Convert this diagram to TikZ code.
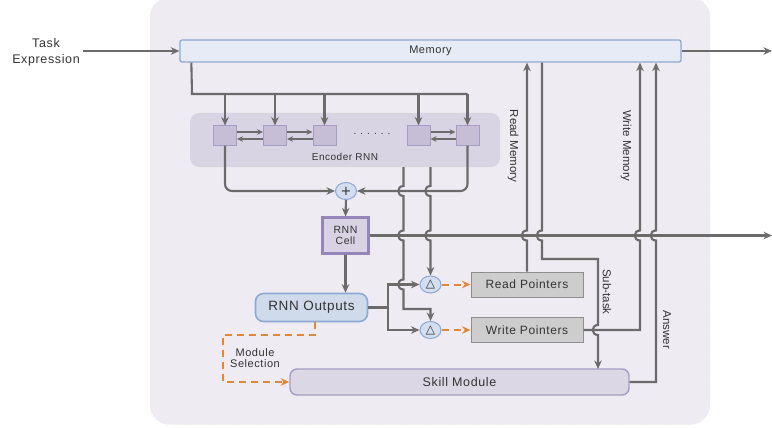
\documentclass[tikz,border=0pt]{standalone}
\usepackage{fontspec}
\setmainfont[LetterSpace=5]{Liberation Sans}
\newfontfamily\labfont{Liberation Sans}
\newfontfamily\symfont{DejaVu Sans}
\usetikzlibrary{arrows.meta,calc,shapes.geometric}
\definecolor{panelfill}{HTML}{EEEBF3}
\definecolor{panelline}{HTML}{C9D2EA}
\definecolor{memfill}{HTML}{E6EBF5}
\definecolor{bluebd}{HTML}{8EA8D4}
\definecolor{encfill}{HTML}{D9D4E3}
\definecolor{sqfill}{HTML}{C6BED7}
\definecolor{purbd}{HTML}{A79CC5}
\definecolor{cellbd}{HTML}{9585BA}
\definecolor{cellfill}{HTML}{D8D2E3}
\definecolor{opfill}{HTML}{D3DEF0}
\definecolor{outfill}{HTML}{CFDBEA}
\definecolor{ptrfill}{HTML}{CDCDCD}
\definecolor{ptrbd}{HTML}{8E8E8E}
\definecolor{skillfill}{HTML}{DCD7E5}
\definecolor{wire}{HTML}{6B6B6B}
\definecolor{orng}{HTML}{E0873A}
\definecolor{txt}{HTML}{333333}
\begin{document}
\begin{tikzpicture}[x=1pt,y=-1pt,
  wire/.style={draw=wire,line width=2.1pt},
  arr/.style={wire,-{Stealth[length=8.5pt,width=7.5pt]}},
  thinarr/.style={draw=wire,line width=1.4pt,-{Stealth[length=6pt,width=5.5pt]}},
  oarr/.style={draw=orng,line width=2pt,dash pattern=on 7pt off 5pt,-{Stealth[length=8.5pt,width=7.5pt]}},
  sq/.style={draw=purbd,fill=sqfill,line width=1pt,minimum width=23pt,minimum height=19pt,inner sep=0pt},
  op/.style={ellipse,draw=bluebd,fill=opfill,line width=1pt,minimum width=21pt,minimum height=17pt,inner sep=0pt},
  ptr/.style={draw=ptrbd,fill=ptrfill,line width=1pt,minimum width=112pt,minimum height=25pt,inner sep=0pt,font=\fontsize{12}{14}\selectfont,text=txt},
  lab/.style={font=\labfont\fontsize{11.5}{13}\selectfont,text=txt,inner sep=0pt},
  every node/.style={text=txt}
]
\useasboundingbox (0,0) rectangle (772,428);
% outer panel
\node[draw=panelline,dotted,fill=panelfill,rounded corners=20pt,minimum width=560pt,minimum height=427pt,inner sep=0pt] (panel) at (430,211) {};
% memory
\node[draw=bluebd,fill=memfill,line width=1.3pt,rounded corners=2pt,minimum width=501pt,minimum height=22pt,inner sep=0pt,font=\fontsize{11}{12}\selectfont] (mem) at (430.5,51) {Memory};
\node[align=center,font=\fontsize{12.5}{16}\selectfont] (task) at (46,52) {Task\\Expression};
\coordinate (memout) at (772,51);
% encoder
\node[fill=encfill,rounded corners=9pt,minimum width=310pt,minimum height=54pt,inner sep=0pt] (enc) at (345,140) {};
\node[sq] (s1) at (225,135.5) {};
\node[sq] (s2) at (275,135.5) {};
\node[sq] (s3) at (324.5,135.5) {};
\node[sq] (s4) at (418.5,135.5) {};
\node[sq] (s5) at (467.5,135.5) {};
\node[font=\fontsize{10}{12}\selectfont] (dots) at (372,134) {.\hspace{4pt}.\hspace{4pt}.\hspace{4pt}.\hspace{4pt}.\hspace{4pt}.};
\node[font=\fontsize{10}{12}\selectfont] (enclab) at (345,157) {Encoder RNN};
% ops
\node[op] (plus) at (346,191) {\symfont\fontsize{13}{13}\selectfont +};
\node[draw=cellbd,fill=cellfill,line width=2.2pt,minimum width=46pt,minimum height=36pt,inner sep=0pt,align=center,font=\fontsize{10.5}{11}\selectfont] (cell) at (345.5,235.5) {RNN\\Cell};
\node[draw=bluebd,fill=outfill,line width=1.6pt,rounded corners=8pt,minimum width=112pt,minimum height=28pt,inner sep=0pt,font=\fontsize{13.5}{15}\selectfont] (out) at (311.5,307.5) {RNN Outputs};
\node[op] (tr) at (430.5,284.5) {\symfont\fontsize{12}{12}\selectfont △};
\node[op] (tw) at (430.5,330) {\symfont\fontsize{12}{12}\selectfont △};
\node[ptr] (rp) at (527,284.5) {Read Pointers};
\node[ptr] (wp) at (527,330) {Write Pointers};
\node[draw=purbd,fill=skillfill,line width=1.4pt,rounded corners=7pt,minimum width=339pt,minimum height=26pt,inner sep=0pt,font=\fontsize{12.5}{14}\selectfont] (skill) at (459.5,382) {Skill Module};
\coordinate (cellout) at (772,235.5);
% labels
\node[lab,rotate=-90] (lrm) at (513,146) {Read Memory};
\node[lab,rotate=-90] (lwm) at (626,146) {Write Memory};
\node[lab,rotate=-90] (lst) at (607,292) {Sub-task};
\node[lab,rotate=-90] (lans) at (667,330) {Answer};
\node[align=center,font=\fontsize{11}{11.5}\selectfont] (lms) at (255,358) {Module\\Selection};

% connectors
\draw[arr] (task.east |- mem.west) -- (mem.west);
\draw[arr] (mem.east) -- (memout);
\coordinate (bus) at (192,94);
\draw[wire] ($(mem.south west)+(12,0)$) -- (bus) -- (bus -| s5.north);
\foreach \s in {s1,s2,s3,s4,s5} \draw[arr] (bus -| \s.north) -- (\s.north);
\foreach \a/\b in {s1/s2,s2/s3,s4/s5} {
  \draw[thinarr] ($(\a.east)+(0,-3.5)$) -- ($(\b.west)+(0,-3.5)$);
  \draw[thinarr] ($(\b.west)+(0,3.5)$) -- ($(\a.east)+(0,3.5)$);
}
\draw[arr,rounded corners=7pt] (s1.south) |- (plus.west);
\draw[arr,rounded corners=7pt] (s5.south) |- (plus.east);
\draw[arr] (plus.south) -- (cell.north);
\draw[arr] (cell.south) -- (cell.south |- out.north);
\draw[arr] (cell.east) -- (cellout);
% verticals from encoder with hops
\coordinate (v1) at (403.5,167);
\coordinate (v2) at (430.5,167);
\coordinate (v1b) at (403.5,309);
\draw[arr] (v1)
  -- (403.5,186) .. controls (396.5,186) and (396.5,196) .. (403.5,196)
  -- (403.5,230.5) .. controls (396.5,230.5) and (396.5,240.5) .. (403.5,240.5)
  -- (403.5,279.5) .. controls (396.5,279.5) and (396.5,289.5) .. (403.5,289.5)
  -- (v1b) -- (v1b -| tw.north) -- (tw.north);
\draw[arr] (v2)
  -- (430.5,186) .. controls (423.5,186) and (423.5,196) .. (430.5,196)
  -- (430.5,230.5) .. controls (423.5,230.5) and (423.5,240.5) .. (430.5,240.5)
  -- (tr.north);
% outputs to ops
\coordinate (fork) at (388,307.5);
\draw[wire] (out.east) -- (fork);
\draw[arr] (fork) |- (tr.west);
\draw[arr] (fork) |- (tw.west);
\draw[oarr] (tr.east) -- (rp.west);
\draw[oarr] (tw.east) -- (wp.west);
% read memory
\draw[arr] (rp.north) -- (527,240.5) .. controls (520,240.5) and (520,230.5) .. (527,230.5) -- (rp.north |- mem.south);
% sub-task
\coordinate (stc) at (542,259);
\draw[arr] (stc |- mem.south) -- (542,230.5) .. controls (535,230.5) and (535,240.5) .. (542,240.5) -- (stc) -- (598,259)
  -- (598,325) .. controls (591,325) and (591,335) .. (598,335) -- (598,369);
% write memory
\coordinate (wmc) at (640,330);
\draw[arr] (wp.east) -- (wmc) -- (640,240.5) .. controls (633,240.5) and (633,230.5) .. (640,230.5) -- (wmc |- mem.south);
% answer
\coordinate (anc) at (656,382);
\draw[arr] (skill.east) -- (anc) -- (656,240.5) .. controls (649,240.5) and (649,230.5) .. (656,230.5) -- (anc |- mem.south);
% module selection
\coordinate (ms1) at (315,335);
\coordinate (ms2) at (223,335);
\draw[oarr] (ms1 |- out.south) -- (ms1) -- (ms2) |- (skill.west);
\end{tikzpicture}
\end{document}
